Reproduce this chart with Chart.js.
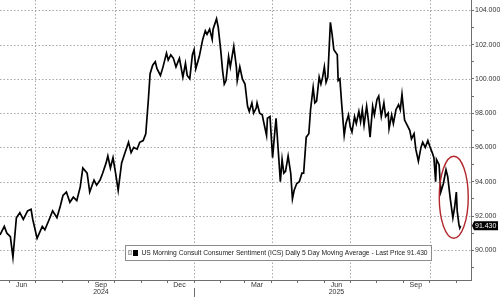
<!DOCTYPE html>
<html>
<head>
<meta charset="utf-8">
<script src="https://cdn.jsdelivr.net/npm/chart.js@4.4.1/dist/chart.umd.min.js"></script>
<style>
  html, body { margin: 0; padding: 0; background: #fff; }
  #chart { display: block; }
</style>
</head>
<body>
<canvas id="chart" width="500" height="297"></canvas>
<script>
// days counted from 2024-05-21
const days = [
  0, 5, 8, 12, 15, 19, 23, 27, 32, 36, 38, 43, 49, 52, 57, 61, 66, 70, 73, 77, 81, 85, 89, 93, 96,
  101, 104, 109, 112, 116, 119, 123, 125, 128, 131, 134, 137, 141, 145, 149, 152, 155, 159, 162, 166, 169,
  172, 174, 177, 180, 182, 186, 189, 193, 195, 198, 201, 204, 208, 212, 215, 217, 220, 223, 225, 227,
  231, 235, 238, 240, 243, 246, 247, 251, 253, 256, 258, 260, 262, 265, 267, 271, 274, 275, 278, 281,
  284, 287, 289, 292, 294, 297, 298, 301, 304, 306, 309, 310, 313, 316, 318, 320, 323, 325, 327, 329,
  331, 334, 337, 339, 341, 344, 347, 350, 352, 355, 358, 360, 363, 365, 367, 370, 372, 374, 376, 378,
  380, 383, 385, 387, 391, 392, 394, 396, 399, 401, 404, 406, 408, 411, 413, 416, 418, 420, 422, 425,
  427, 429, 432, 434, 437, 439, 442, 445, 447, 450, 451, 454, 456, 459, 462, 464, 466, 469, 472, 475,
  477, 480, 482, 485, 488, 490, 493, 496, 498, 501, 503, 505, 506, 509, 511, 514, 517, 519, 522, 525,
  527, 529, 530, 532, 533, 534
];
const sentiment = [
  90.9, 91.4, 91.0, 90.8, 89.6, 91.9, 92.2, 91.8, 92.3, 92.4, 91.8, 90.7, 91.4, 91.2, 91.8, 92.3, 91.9, 92.6, 93.2, 93.4, 92.8, 93.1, 92.9, 93.7, 94.8,
  94.5, 93.4, 94.1, 93.8, 94.1, 94.5, 95.1, 95.5, 94.8, 95.4, 94.5, 93.5, 95.1, 95.7, 96.3, 95.7, 96.0, 95.9, 96.3, 96.4, 96.8,
  98.8, 100.3, 100.8, 101.0, 100.6, 100.2, 100.7, 101.5, 101.1, 101.4, 101.2, 100.7, 101.2, 100.1, 100.9, 100.2, 100.0, 101.4, 101.7, 100.6,
  101.3, 102.3, 102.8, 102.6, 102.9, 102.3, 102.9, 103.5, 103.0, 101.6, 100.5, 99.7, 99.9, 101.3, 100.7, 101.9, 100.7, 99.9, 100.7, 100.0,
  99.7, 98.4, 98.1, 98.6, 98.0, 98.3, 98.6, 98.0, 97.9, 97.4, 96.7, 97.7, 97.8, 95.4, 96.6, 97.7, 95.5, 94.0, 95.3, 94.5,
  94.6, 95.5, 94.5, 93.0, 93.5, 93.9, 94.0, 94.5, 94.5, 96.6, 96.8, 98.2, 99.5, 98.6, 98.7, 100.1, 99.7, 100.1, 100.7, 99.8,
  100.1, 103.3, 102.6, 101.7, 101.4, 99.9, 100.0, 98.6, 96.7, 97.4, 97.9, 97.2, 96.9, 97.8, 97.4, 98.1, 97.5, 98.2, 97.3, 98.4,
  97.6, 96.6, 98.4, 97.9, 98.8, 99.0, 97.8, 98.6, 97.8, 98.0, 97.1, 97.9, 97.4, 98.2, 98.5, 98.2, 99.1, 97.6, 97.3, 97.0,
  96.5, 96.8, 95.9, 95.2, 96.0, 96.3, 96.0, 96.4, 96.1, 95.7, 95.4, 94.0, 95.3, 95.0, 93.4, 93.9, 94.7, 94.3, 93.0, 91.9,
  92.5, 93.4, 92.3, 91.5, 91.3, 91.43
];
const monthLabels = ['Jun', 'Sep', 'Dec', 'Mar', 'Jun', 'Sep'];
const monthLabelDates = ['2024-06-15', '2024-09-15', '2024-12-15', '2025-03-15', '2025-06-15', '2025-09-15'];
const yearLabels = ['', '2024', '', '', '2025', ''];
const yTickValues = [89, 90, 91, 92, 93, 94, 95, 96, 97, 98, 99, 100, 101, 102, 103, 104];

const lastPrice = sentiment[sentiment.length - 1];
const seriesName = 'US Morning Consult Consumer Sentiment (ICS) Daily 5 Day Moving Average - Last Price ' + lastPrice.toFixed(3);

const startDate = Date.UTC(2024, 4, 21);
function dayOf(y, m, d) {
  return Math.round((Date.UTC(y, m - 1, d) - startDate) / 86400000);
}
function dayOfStr(s) {
  const p = s.split('-').map(Number);
  return dayOf(p[0], p[1], p[2]);
}

// month starts get a tick mark, quarter starts a grid line
const monthStarts = [];
const quarterStarts = [];
for (let y = 2024; y <= 2025; y++) {
  for (let m = 1; m <= 12; m++) {
    const d = dayOf(y, m, 1);
    if (d < 0 || d > 546) continue;
    monthStarts.push(d);
    if (m % 3 === 1) quarterStarts.push(d);
  }
}
const labelDays = monthLabelDates.map(dayOfStr);
const yearSplit = dayOf(2025, 1, 1);

const gridColor = '#a8a8a8';
const axisColor = '#6e6e6e';
const textColor = '#333';

Chart.defaults.font.family = "'Liberation Sans', Arial, sans-serif";
Chart.defaults.font.size = 7;
Chart.defaults.color = textColor;

// ring, year separator, legend box, last price tag, then the dotted grid behind everything
const extras = {
  id: 'extras',
  afterDraw(chart) {
    const ctx = chart.ctx;
    const xs = chart.scales.x, ys = chart.scales.y;
    const area = chart.chartArea;
    ctx.save();

    ctx.strokeStyle = '#b3262c';
    ctx.lineWidth = 1.4;
    ctx.beginPath();
    ctx.ellipse(xs.getPixelForValue(526), ys.getPixelForValue(93.1), 14.5, 41, 0, 0, Math.PI * 2);
    ctx.stroke();

    const xSplit = Math.round(xs.getPixelForValue(yearSplit)) + 0.5;
    ctx.strokeStyle = axisColor;
    ctx.lineWidth = 1;
    ctx.beginPath();
    ctx.moveTo(xSplit, area.bottom + 8);
    ctx.lineTo(xSplit, 297);
    ctx.stroke();

    const bx = 125.5, by = 245.5, bw = 306, bh = 15;
    ctx.fillStyle = '#fff';
    ctx.fillRect(bx, by, bw, bh);
    ctx.strokeStyle = '#8c8c8c';
    ctx.strokeRect(bx, by, bw, bh);
    ctx.fillStyle = '#e4e4e4';
    ctx.fillRect(128, 250, 4, 5);
    ctx.strokeStyle = '#aaa';
    ctx.strokeRect(128.5, 250.5, 3, 4);
    ctx.fillStyle = '#000';
    ctx.fillRect(133, 250, 5, 6);
    ctx.font = "10px 'Liberation Sans', Arial, sans-serif";
    const w10 = ctx.measureText(seriesName).width;
    const size = 10 * 286 / w10;
    ctx.font = size.toFixed(2) + "px 'Liberation Sans', Arial, sans-serif";
    ctx.fillStyle = '#222';
    ctx.textBaseline = 'middle';
    ctx.fillText(seriesName, 141.5, 253.3);

    const yp = ys.getPixelForValue(lastPrice);
    ctx.fillStyle = '#000';
    ctx.beginPath();
    ctx.moveTo(area.right + 1, yp);
    ctx.lineTo(area.right + 3, yp - 4.5);
    ctx.lineTo(498, yp - 4.5);
    ctx.lineTo(498, yp + 4.5);
    ctx.lineTo(area.right + 3, yp + 4.5);
    ctx.closePath();
    ctx.fill();
    ctx.fillStyle = '#fff';
    ctx.font = "7px 'Liberation Sans', Arial, sans-serif";
    ctx.fillText(lastPrice.toFixed(3), 475, yp + 0.5);

    // dotted grid, painted under what is already there
    ctx.globalCompositeOperation = 'destination-over';
    ctx.strokeStyle = gridColor;
    ctx.lineWidth = 1;
    ctx.setLineDash([1.5, 2]);
    quarterStarts.forEach(d => {
      const x = Math.round(xs.getPixelForValue(d)) + 0.5;
      ctx.beginPath();
      ctx.moveTo(x, area.top);
      ctx.lineTo(x, area.bottom);
      ctx.stroke();
    });
    yTickValues.filter(v => v % 2 === 0).forEach(v => {
      const y = Math.round(ys.getPixelForValue(v)) + 0.5;
      ctx.beginPath();
      ctx.moveTo(area.left, y);
      ctx.lineTo(area.right, y);
      ctx.stroke();
    });
    ctx.restore();
  }
};

new Chart(document.getElementById('chart'), {
  type: 'line',
  data: {
    datasets: [{
      label: seriesName,
      data: days.map((d, i) => ({ x: d, y: sentiment[i] })),
      borderColor: '#000',
      borderWidth: 1.7,
      pointRadius: 0,
      tension: 0,
      fill: false
    }]
  },
  options: {
    responsive: false,
    animation: false,
    devicePixelRatio: 1,
    layout: { padding: 0 },
    plugins: {
      legend: { display: false },
      tooltip: { enabled: false }
    },
    scales: {
      x: {
        type: 'linear',
        position: 'bottom',
        min: 0,
        max: 546,
        afterBuildTicks(scale) {
          const vals = monthStarts.concat(labelDays).sort((a, b) => a - b);
          scale.ticks = vals.map(v => ({ value: v }));
        },
        afterFit(scale) {
          scale.height = 17;
          scale.paddingLeft = 0;
          scale.paddingRight = 0;
        },
        grid: {
          drawOnChartArea: false,
          tickColor: c => (c.tick && monthStarts.includes(c.tick.value)) ? axisColor : 'rgba(0,0,0,0)',
          tickLength: 3,
          lineWidth: 1
        },
        border: { display: true, color: axisColor, width: 1 },
        ticks: {
          autoSkip: false,
          maxRotation: 0,
          padding: -2,
          font: { size: 7, lineHeight: 1.1 },
          color: textColor,
          callback: v => {
            const i = labelDays.indexOf(v);
            if (i < 0) return '';
            return yearLabels[i] ? [monthLabels[i], yearLabels[i]] : monthLabels[i];
          }
        }
      },
      y: {
        type: 'linear',
        position: 'right',
        min: 88.27,
        max: 104.6,
        afterBuildTicks(scale) {
          scale.ticks = yTickValues.map(v => ({ value: v }));
        },
        afterFit(scale) {
          scale.width = 29;
          scale.paddingTop = 0;
          scale.paddingBottom = 0;
        },
        grid: {
          drawOnChartArea: false,
          tickColor: axisColor,
          tickLength: 3,
          lineWidth: 1
        },
        border: { display: true, color: axisColor, width: 1 },
        ticks: {
          autoSkip: false,
          padding: 1,
          font: { size: 7 },
          color: textColor,
          callback: v => (v % 2 === 0) ? v.toFixed(3) : ''
        }
      }
    }
  },
  plugins: [extras]
});
</script>
</body>
</html>
